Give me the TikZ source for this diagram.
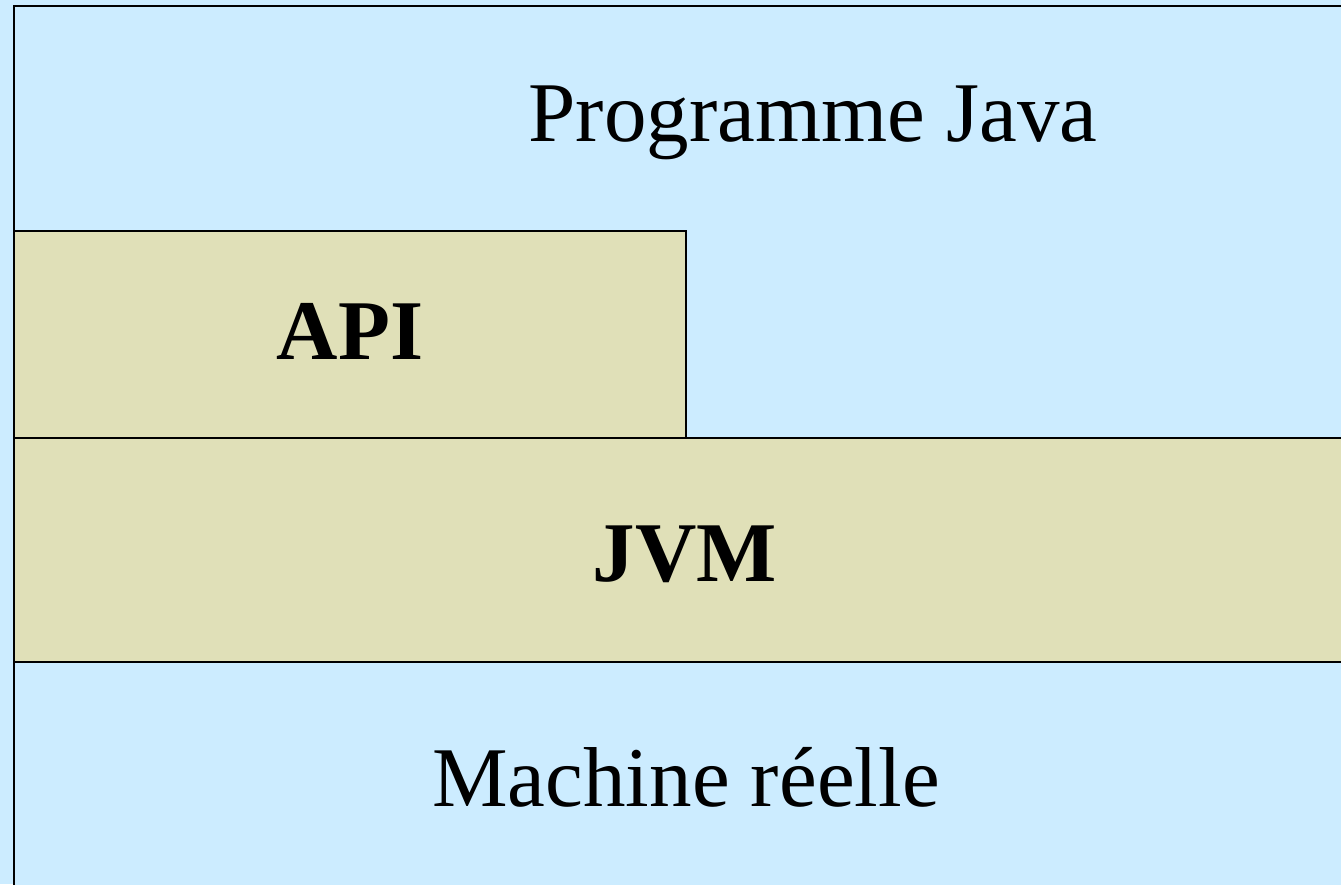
\documentclass[tikz,border=0pt]{standalone}
\usepackage{fontspec}
\setmainfont{Liberation Serif}
\definecolor{skyblue}{HTML}{CCECFF}
\definecolor{olive}{HTML}{E0E0B8}
\begin{document}
\begin{tikzpicture}[x=1pt,y=-1pt,
  layer/.style={draw=black,line width=2pt},
  lbl/.style={inner sep=0pt,anchor=base,font=\fontsize{85}{100}\selectfont}]
\useasboundingbox (0,0) rectangle (1341,884);
\fill[skyblue] (0,0) rectangle (1341,884);
\draw[layer,fill=skyblue] (13.5,6) rectangle (1350,895);
\draw[layer,fill=olive] (13.5,231) rectangle (686,438);
\draw[layer,fill=olive] (13.5,438) rectangle (1350,662);
\node[lbl] (prog) at (813,141) {Programme Java};
\node[lbl,font=\fontsize{85}{100}\selectfont\bfseries] (api) at (350,359) {API};
\node[lbl,font=\fontsize{85}{100}\selectfont\bfseries] (jvm) at (685,581) {JVM};
\node[lbl] (mach) at (686,806) {Machine réelle};
\end{tikzpicture}
\end{document}
